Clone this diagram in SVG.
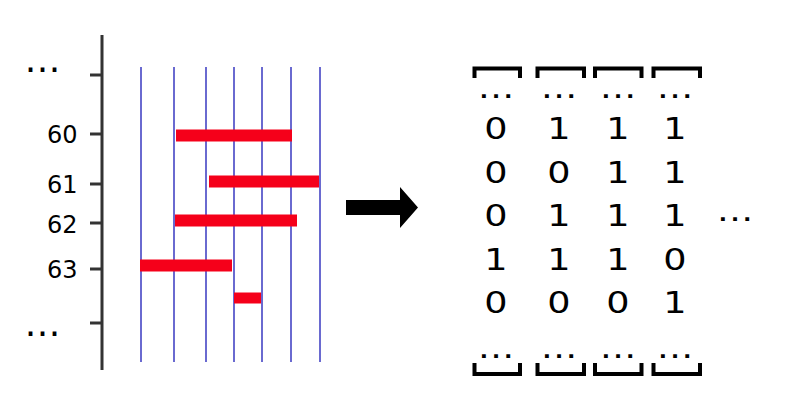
<svg xmlns="http://www.w3.org/2000/svg" width="786" height="404" viewBox="0 0 786 404">
<style>
text{font-family:"DejaVu Sans",sans-serif;fill:#000}
.lbl{font-size:24px;text-anchor:end}
.el{font-size:36px;text-anchor:middle}
.d{font-size:30.5px;text-anchor:middle}
.ax{stroke:#333;stroke-width:3;fill:none}
.bl{stroke:#6a6ad0;stroke-width:2}
.rb{stroke:#f5001a;stroke-width:12}
.br{stroke:#000;stroke-width:4;fill:none}
</style>
<rect width="786" height="404" fill="#fff"/>
<g id="axis">
<line class="ax" x1="102" y1="35" x2="102" y2="370"/>
<line class="ax" x1="90" y1="75" x2="102" y2="75"/>
<line class="ax" x1="90" y1="134" x2="102" y2="134"/>
<line class="ax" x1="90" y1="184" x2="102" y2="184"/>
<line class="ax" x1="90" y1="223" x2="102" y2="223"/>
<line class="ax" x1="90" y1="269" x2="102" y2="269"/>
<line class="ax" x1="90" y1="323" x2="102" y2="323"/>
<text class="el" x="42.5" y="72">…</text>
<text class="lbl" x="77.5" y="142.5">60</text>
<text class="lbl" x="77.5" y="192.5">61</text>
<text class="lbl" x="77.5" y="232.5">62</text>
<text class="lbl" x="77.5" y="278">63</text>
<text class="el" x="42.5" y="336">…</text>
</g>
<g id="grid">
<line class="bl" x1="141" y1="67" x2="141" y2="362"/>
<line class="bl" x1="174" y1="67" x2="174" y2="362"/>
<line class="bl" x1="206" y1="67" x2="206" y2="362"/>
<line class="bl" x1="234" y1="67" x2="234" y2="362"/>
<line class="bl" x1="262" y1="67" x2="262" y2="362"/>
<line class="bl" x1="291" y1="67" x2="291" y2="362"/>
<line class="bl" x1="320" y1="67" x2="320" y2="362"/>
</g>
<g id="bars">
<line class="rb" x1="176" y1="135.5" x2="292" y2="135.5"/>
<line class="rb" x1="209" y1="181.5" x2="319" y2="181.5"/>
<line class="rb" x1="175" y1="220.5" x2="297" y2="220.5"/>
<line class="rb" x1="140" y1="265.5" x2="232" y2="265.5"/>
<line class="rb" x1="234" y1="298" x2="261" y2="298" style="stroke-width:11"/>
</g>
<g id="connectors">
<polygon points="346,200 400,200 400,187 418,207.5 400,228 400,215 346,215" fill="#000"/>
</g>
<g id="matrix">
<path class="br" d="M474.5,78 V68.5 H520 V78 M537.5,78 V68.5 H584 V78 M595,78 V68.5 H641.5 V78 M653.5,78 V68.5 H700 V78"/>
<path class="br" d="M474.5,363 V374 H520 V363 M537.5,363 V374 H584 V363 M595,363 V374 H641.5 V363 M653.5,363 V374 H700 V363"/>
<g transform="scale(1.2 1)">
<text class="d" x="413.3" y="98">…</text><text class="d" x="465.8" y="98">…</text><text class="d" x="515" y="98">…</text><text class="d" x="562.5" y="98">…</text>
<text class="d" x="413.3" y="139.5">0</text><text class="d" x="465.8" y="139.5">1</text><text class="d" x="515" y="139.5">1</text><text class="d" x="562.5" y="139.5">1</text>
<text class="d" x="413.3" y="183">0</text><text class="d" x="465.8" y="183">0</text><text class="d" x="515" y="183">1</text><text class="d" x="562.5" y="183">1</text>
<text class="d" x="413.3" y="226">0</text><text class="d" x="465.8" y="226">1</text><text class="d" x="515" y="226">1</text><text class="d" x="562.5" y="226">1</text>
<text class="d" x="413.3" y="270">1</text><text class="d" x="465.8" y="270">1</text><text class="d" x="515" y="270">1</text><text class="d" x="562.5" y="270">0</text>
<text class="d" x="413.3" y="313">0</text><text class="d" x="465.8" y="313">0</text><text class="d" x="515" y="313">0</text><text class="d" x="562.5" y="313">1</text>
<text class="d" x="413.3" y="358">…</text><text class="d" x="465.8" y="358">…</text><text class="d" x="515" y="358">…</text><text class="d" x="562.5" y="358">…</text>
<text class="d" x="612.5" y="221">…</text>
</g>
</g>
</svg>
